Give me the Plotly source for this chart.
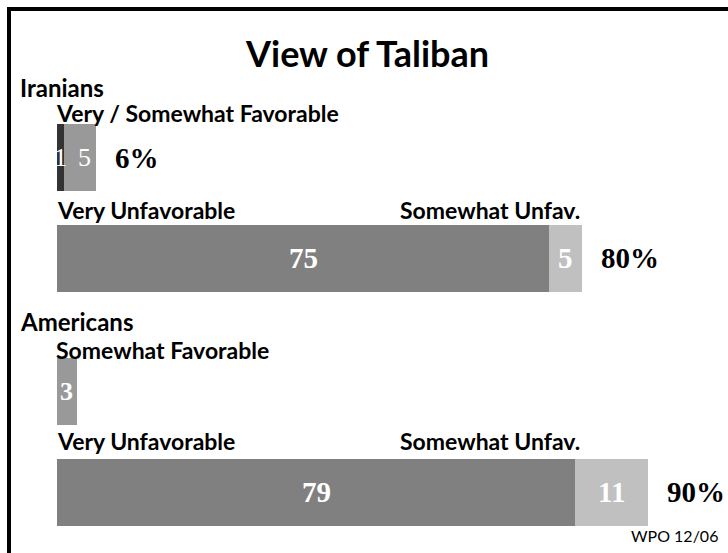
import plotly.graph_objects as go

# --- data -------------------------------------------------------------
groups = ["Iranians", "Americans"]
fav_headers = ["Very / Somewhat Favorable", "Somewhat Favorable"]
very_fav = [1, 0]
somewhat_fav = [5, 3]
very_unfav = [75, 79]
somewhat_unfav = [5, 11]
fav_total_labels = ["6%", None]
unfav_total_labels = ["80%", "90%"]
source_note = "WPO 12/06"

# --- layout constants (page is 728 x 553 px) ---------------------------
W, H = 728, 553
X0_PX = 57              # pixel where a value of 0 sits
PX_PER_UNIT = 6.5625
fav_rows = [157.5, 391]     # bar centres (px from top)
unfav_rows = [258, 492]
BAR_H = 67

SANS = "Lato"
SERIF = "Liberation Serif"
C_VERY_FAV = "#333333"
C_SOME_FAV = "#999999"
C_VERY_UNFAV = "#808080"
C_SOME_UNFAV = "#c0c0c0"

fig = go.Figure()


def add_bar(rows, values, color, name):
    fig.add_trace(go.Bar(
        y=rows, x=values, orientation="h", width=BAR_H, name=name,
        marker=dict(color=color, line=dict(width=0)),
        hoverinfo="skip", showlegend=False,
    ))


add_bar(fav_rows, very_fav, C_VERY_FAV, "Very favorable")
add_bar(fav_rows, somewhat_fav, C_SOME_FAV, "Somewhat favorable")
add_bar(unfav_rows, very_unfav, C_VERY_UNFAV, "Very unfavorable")
add_bar(unfav_rows, somewhat_unfav, C_SOME_UNFAV, "Somewhat unfavorable")

ann = []


def text(x, y, s, size, family=SANS, anchor="left", color="black", bold=True):
    ann.append(dict(
        x=x / W, xref="paper", y=y, yref="y",
        text=f"<b>{s}</b>" if bold else s, showarrow=False,
        xanchor=anchor, yanchor="middle",
        font=dict(family=family, size=size, color=color),
    ))


def seg_label(start, value, row, size, bold=True, shift=0):
    # value written in the middle of its own segment
    if value <= 0:
        return
    ann.append(dict(
        x=start + value / 2, xref="x", y=row, yref="y", xshift=shift,
        text=f"<b>{value}</b>" if bold else str(value), showarrow=False,
        xanchor="center", yanchor="middle",
        font=dict(family=SERIF, size=size, color="white"),
    ))


def total_label(total, row, s):
    ann.append(dict(
        x=total, xref="x", y=row, yref="y", xshift=17,
        text=f"<b>{s}</b>", showarrow=False,
        xanchor="left", yanchor="middle",
        font=dict(family=SERIF, size=29, color="black"),
    ))


text(367, 53, "View of Taliban", 36, anchor="center")

group_y = [87, 321]
fav_head_y = [113, 350]
unfav_head_y = [210, 441]

for i, g in enumerate(groups):
    text(18, group_y[i], g, 24)
    text(54, fav_head_y[i], fav_headers[i], 23)
    text(55, unfav_head_y[i], "Very Unfavorable", 23)
    text(398, unfav_head_y[i], "Somewhat Unfav.", 23)

    small = i == 0
    seg_label(0, very_fav[i], fav_rows[i], 26, bold=not small)
    seg_label(very_fav[i], somewhat_fav[i], fav_rows[i], 26, bold=not small,
              shift=5 if small else 0)
    if fav_total_labels[i]:
        total_label(very_fav[i] + somewhat_fav[i], fav_rows[i], fav_total_labels[i])

    seg_label(0, very_unfav[i], unfav_rows[i], 29)
    seg_label(very_unfav[i], somewhat_unfav[i], unfav_rows[i], 29)
    total_label(very_unfav[i] + somewhat_unfav[i], unfav_rows[i], unfav_total_labels[i])

text(720, 535, source_note, 16, anchor="right", bold=False)

fig.update_layout(
    width=W, height=H,
    margin=dict(l=0, r=0, t=0, b=0),
    paper_bgcolor="white", plot_bgcolor="white",
    barmode="stack", bargap=0,
    xaxis=dict(range=[-X0_PX / PX_PER_UNIT, (W - X0_PX) / PX_PER_UNIT],
               visible=False, fixedrange=True),
    yaxis=dict(range=[H, 0], visible=False, fixedrange=True),
    annotations=ann,
    shapes=[dict(type="rect", xref="paper", yref="paper",
                 x0=9 / W, x1=(W + 20) / W, y0=1 - 9 / H, y1=-(2 / H),
                 line=dict(color="black", width=4), fillcolor="rgba(0,0,0,0)")],
)

fig.write_html("out.html")
